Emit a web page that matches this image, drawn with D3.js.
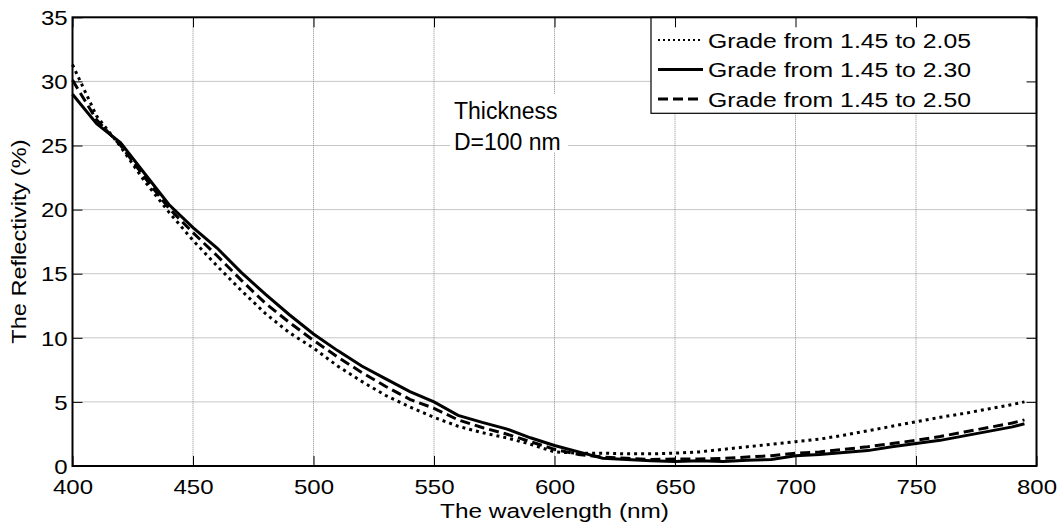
<!DOCTYPE html>
<html>
<head>
<meta charset="utf-8">
<script src="https://cdn.jsdelivr.net/npm/d3@7"></script>
<style>
  body { margin: 0; background: #fff; }
  text { font-family: "Liberation Sans", Arial, sans-serif; fill: #000; }
</style>
</head>
<body>
<svg id="chart" width="1062" height="527"></svg>
<script>
// wavelength in nm
const wavelength = [400, 410, 420, 430, 440, 450, 460, 470, 480, 490,
                    500, 510, 520, 530, 540, 550, 560, 570, 580, 590,
                    600, 610, 620, 630, 640, 650, 660, 670, 680, 690,
                    700, 710, 720, 730, 740, 750, 760, 770, 780, 790, 795];

// reflectivity (%) for each grade
const grade205 = [31.3, 27.3, 24.9, 22.2, 19.8, 17.6, 15.6, 13.7, 11.9, 10.4,
                  9.2, 7.8, 6.6, 5.5, 4.6, 3.8, 3.1, 2.6, 2.2, 1.7,
                  1.1, 1.0, 1.0, 0.95, 0.95, 1.0, 1.1, 1.3, 1.5, 1.7,
                  1.9, 2.1, 2.4, 2.75, 3.1, 3.45, 3.8, 4.1, 4.45, 4.8, 5.0];
const grade230 = [29.0, 26.7, 25.2, 22.8, 20.4, 18.6, 17.0, 15.1, 13.4, 11.8,
                  10.3, 9.0, 7.8, 6.8, 5.8, 5.0, 3.95, 3.4, 2.9, 2.2,
                  1.6, 1.1, 0.6, 0.5, 0.4, 0.35, 0.4, 0.35, 0.45, 0.5,
                  0.8, 0.9, 1.05, 1.2, 1.5, 1.75, 2.0, 2.35, 2.7, 3.05, 3.3];
const grade250 = [30.1, 27.0, 25.0, 22.5, 20.1, 18.2, 16.4, 14.5, 12.7, 11.2,
                  9.8, 8.5, 7.3, 6.2, 5.2, 4.5, 3.6, 3.0, 2.5, 1.9,
                  1.3, 0.9, 0.7, 0.6, 0.5, 0.55, 0.55, 0.6, 0.7, 0.8,
                  1.0, 1.1, 1.3, 1.5, 1.75, 2.0, 2.3, 2.65, 3.0, 3.35, 3.6];

const seriesNames = ["Grade from 1.45 to 2.05", "Grade from 1.45 to 2.30", "Grade from 1.45 to 2.50"];
const xTicks = [400, 450, 500, 550, 600, 650, 700, 750, 800];
const yTicks = [0, 5, 10, 15, 20, 25, 30, 35];

const plotL = 72.5, plotR = 1036.5, plotT = 17.3, plotB = 466;
const svg = d3.select("#chart");

const x = d3.scaleLinear().domain([400, 800]).range([plotL, plotR]);
const y = d3.scaleLinear().domain([0, 35]).range([plotB, plotT]);

// grid
const grid = svg.append("g");
grid.selectAll(".gx").data(xTicks.slice(1, -1)).enter().append("line")
    .attr("x1", d => x(d)).attr("x2", d => x(d))
    .attr("y1", plotT).attr("y2", plotB);
grid.selectAll(".gy").data(yTicks.slice(1, -1)).enter().append("line")
    .attr("x1", plotL).attr("x2", plotR)
    .attr("y1", d => y(d)).attr("y2", d => y(d));
grid.selectAll("line")
    .attr("stroke", "#8f8f8f")
    .attr("stroke-width", 1)
    .attr("stroke-dasharray", "1,1");

// curves
const styles = [
    { data: grade205, dash: "3,4" },
    { data: grade230, dash: null },
    { data: grade250, dash: "10,5" }
];

const line = d3.line()
    .x((d, i) => x(wavelength[i]))
    .y(d => y(d));

svg.append("g").selectAll("path")
    .data(styles)
    .enter().append("path")
    .attr("d", d => line(d.data))
    .attr("fill", "none")
    .attr("stroke", "#000")
    .attr("stroke-width", 3)
    .attr("stroke-dasharray", d => d.dash);

// annotation
svg.append("rect")
    .attr("x", 450).attr("y", 94).attr("width", 118).attr("height", 58)
    .attr("fill", "#fff");

function stretchText(parent, tx, ty, str, size, sx, anchor, rot) {
    return parent.append("text")
        .attr("transform", `translate(${tx},${ty})` + (rot ? ` rotate(${rot})` : "") + ` scale(${sx},1)`)
        .attr("font-size", size)
        .attr("text-anchor", anchor || "start")
        .text(str);
}

stretchText(svg, 454, 119, "Thickness", 23, 1.0);
stretchText(svg, 454, 150, "D=100 nm", 23, 1.0);

// legend
const leg = svg.append("g");
leg.append("rect")
    .attr("x", 651).attr("y", plotT).attr("width", plotR - 651).attr("height", 96)
    .attr("fill", "#fff").attr("stroke", "#000").attr("stroke-width", 1.2);

const legRows = leg.selectAll(".row")
    .data(seriesNames)
    .enter().append("g")
    .attr("transform", (d, i) => `translate(0,${40 + i * 29.5})`);

legRows.append("line")
    .attr("x1", 658).attr("x2", 703).attr("y1", 0).attr("y2", 0)
    .attr("stroke", "#000")
    .attr("stroke-width", (d, i) => i === 0 ? 2 : 3)
    .attr("stroke-dasharray", (d, i) => i === 0 ? "2,3" : styles[i].dash);

legRows.each(function(d) {
    stretchText(d3.select(this), 708, 7.5, d, 21, 1.18);
});

// axes
const xAxis = svg.append("g")
    .attr("transform", `translate(0,${plotB})`)
    .call(d3.axisBottom(x).tickValues(xTicks).tickSizeInner(-10).tickSizeOuter(0).tickPadding(0));
xAxis.selectAll("text")
    .attr("font-size", 20)
    .attr("y", 28).attr("dy", 0)
    .attr("transform", "scale(1.2,1)");

const yAxis = svg.append("g")
    .attr("transform", `translate(${plotL},0)`)
    .call(d3.axisLeft(y).tickValues(yTicks).tickSizeInner(-10).tickSizeOuter(0).tickPadding(0));
yAxis.selectAll("text")
    .attr("font-size", 20)
    .attr("x", -4).attr("dy", "0.36em")
    .attr("transform", "scale(1.2,1)");

svg.append("g")
    .attr("transform", `translate(0,${plotT})`)
    .call(d3.axisTop(x).tickValues(xTicks).tickSizeInner(-10).tickSizeOuter(0).tickFormat(""));
svg.append("g")
    .attr("transform", `translate(${plotR},0)`)
    .call(d3.axisRight(y).tickValues(yTicks).tickSizeInner(-10).tickSizeOuter(0).tickFormat(""));

svg.selectAll(".domain").remove();
svg.selectAll(".tick line").attr("stroke", "#000").attr("stroke-width", 1);

// box
svg.append("rect")
    .attr("x", plotL).attr("y", plotT)
    .attr("width", plotR - plotL).attr("height", plotB - plotT)
    .attr("fill", "none").attr("stroke", "#000").attr("stroke-width", 2);

// axis titles
stretchText(svg, (plotL + plotR) / 2, 518, "The wavelength (nm)", 20.5, 1.19, "middle");
stretchText(svg, 26, (plotT + plotB) / 2, "The Reflectivity (%)", 20.5, 1.15, "middle", -90);
</script>
</body>
</html>
